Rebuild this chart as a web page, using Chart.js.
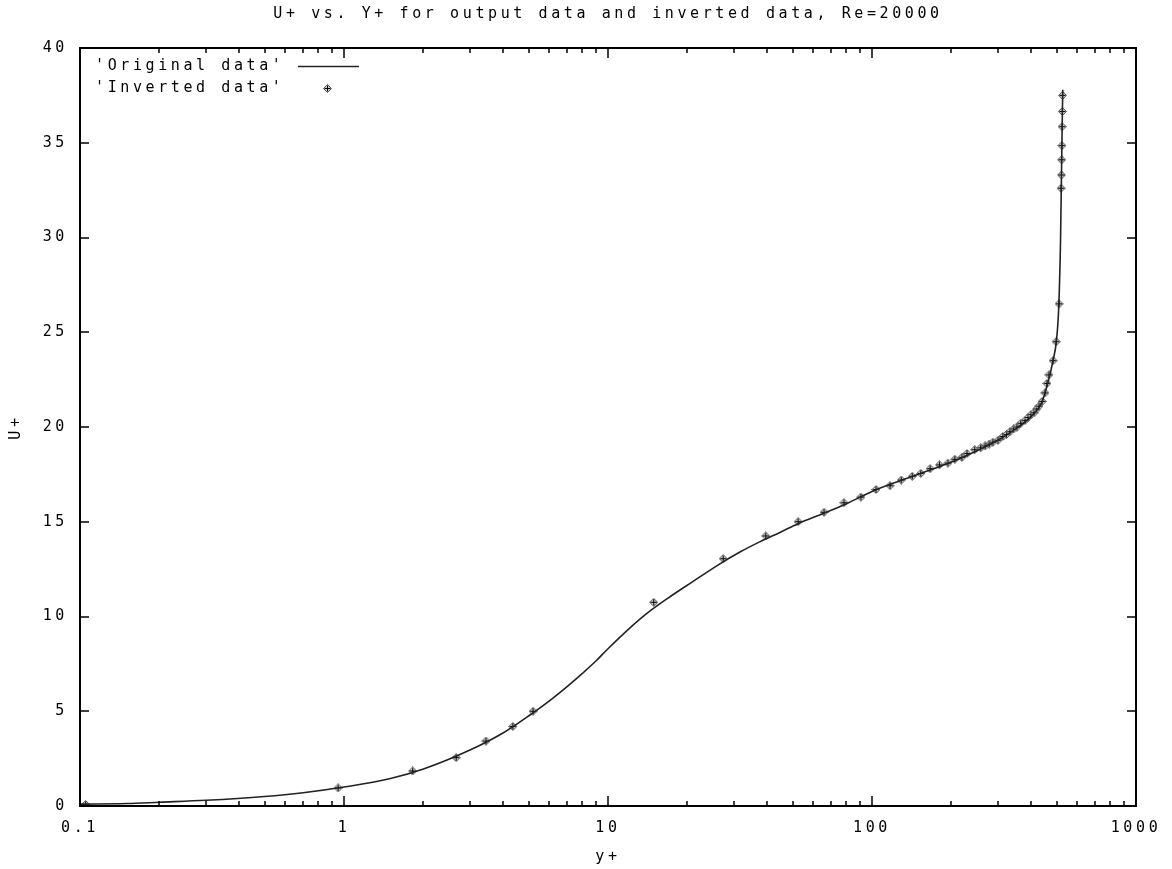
<!DOCTYPE html>
<html>
<head>
<meta charset="utf-8">
<script src="https://cdn.jsdelivr.net/npm/chart.js@4.4.1/dist/chart.umd.min.js"></script>
<style>
  html, body { margin: 0; padding: 0; background: #fff; }
  #wrap { width: 1172px; height: 869px; }
</style>
</head>
<body>
<div id="wrap"><canvas id="uplus"></canvas></div>
<script>
// continuous profile (y+, U+)
const lineYp = [0.1, 0.15, 0.2, 0.3, 0.5, 0.7, 1, 1.5, 2, 3, 4, 5, 6, 7, 8, 9, 10, 12, 14, 17, 21,
  26, 31.6, 37.7, 45, 52.5, 65.8, 80, 100, 130, 160, 200, 250, 300, 350, 400, 440, 465, 485, 500,
  510, 518, 522, 526, 528];
const lineUp = [0.1, 0.13, 0.2, 0.3, 0.5, 0.7, 1.0, 1.45, 1.95, 2.95, 3.85, 4.75, 5.55, 6.3, 7.0, 7.65, 8.3, 9.35, 10.15, 11.0, 11.85,
  12.7, 13.4, 13.95, 14.45, 14.9, 15.45, 15.95, 16.6, 17.2, 17.65, 18.15, 18.75, 19.3, 19.9, 20.55, 21.3, 22.4, 23.5, 24.6,
  26.4, 30, 33.3, 36.5, 37.8];

// inverted points (y+, U+)
const invYp = [0.105, 0.95, 1.82, 2.66, 3.45, 4.36, 5.2, 14.9, 27.3, 39.6, 52.5, 65.8, 78.3, 90.8, 103.5,
  117, 129, 142, 153, 166, 180, 194, 206, 219, 229, 245, 258, 268, 278, 287, 300, 313, 323, 333, 344,
  354, 366, 380, 390, 400, 411, 420, 429, 441, 452, 460, 468, 485, 498, 511, 520, 522, 523, 524, 525, 526, 527];
const invUp = [0.08, 0.95, 1.85, 2.55, 3.43, 4.2, 5.0, 10.75, 13.05, 14.25, 15.0, 15.5, 16.0, 16.3, 16.7,
  16.9, 17.2, 17.4, 17.55, 17.8, 18.0, 18.1, 18.3, 18.4, 18.6, 18.8, 18.9, 19.0, 19.1, 19.2, 19.3, 19.5, 19.6, 19.75, 19.9,
  20.0, 20.2, 20.35, 20.5, 20.65, 20.75, 20.95, 21.1, 21.35, 21.8, 22.3, 22.75, 23.5, 24.5, 26.5, 32.6, 33.3, 34.1, 34.85, 35.85, 36.65, 37.5];

const xTickVals = [0.1, 1, 10, 100, 1000];
const yTickVals = [0, 5, 10, 15, 20, 25, 30, 35, 40];

const FONT_FAMILY = '"DejaVu Sans Mono", monospace';
const FONT = '15px ' + FONT_FAMILY;
const SPACING = '3.6px';

// small diamond-with-cross marker
function makeMarker() {
  const c = document.createElement('canvas');
  c.width = 9; c.height = 9;
  const g = c.getContext('2d');
  g.fillStyle = '#ccc';
  g.strokeStyle = '#555';
  g.lineWidth = 1;
  g.beginPath();
  g.moveTo(4.5, 0.5); g.lineTo(8.5, 4.5); g.lineTo(4.5, 8.5); g.lineTo(0.5, 4.5); g.closePath();
  g.fill();
  g.stroke();
  g.strokeStyle = '#000';
  g.beginPath();
  g.moveTo(4.5, 1.5); g.lineTo(4.5, 7.5);
  g.moveTo(1.5, 4.5); g.lineTo(7.5, 4.5);
  g.stroke();
  return c;
}
const marker = makeMarker();

// frame, inward ticks, titles and key
const gnuFrame = {
  id: 'gnuFrame',
  beforeDraw(chart) {
    chart.ctx.letterSpacing = SPACING;
  },
  afterDraw(chart) {
    const ctx = chart.ctx;
    const a = chart.chartArea;
    const xs = chart.scales.x, ys = chart.scales.y;
    ctx.save();
    ctx.strokeStyle = '#000';
    ctx.lineWidth = 2;
    ctx.strokeRect(a.left, a.top, a.right - a.left, a.bottom - a.top);

    ctx.lineWidth = 1.5;
    ctx.beginPath();
    [0.1, 1, 10, 100].forEach(d => {
      for (let k = 1; k <= 9; k++) {
        const px = Math.round(xs.getPixelForValue(d * k));
        const len = k === 1 ? 10 : 5;
        ctx.moveTo(px, a.bottom); ctx.lineTo(px, a.bottom - len);
        ctx.moveTo(px, a.top); ctx.lineTo(px, a.top + len);
      }
    });
    yTickVals.forEach(v => {
      const py = Math.round(ys.getPixelForValue(v));
      ctx.moveTo(a.left, py); ctx.lineTo(a.left + 9, py);
      ctx.moveTo(a.right, py); ctx.lineTo(a.right - 9, py);
    });
    ctx.stroke();

    ctx.fillStyle = '#000';
    ctx.font = FONT;
    ctx.letterSpacing = SPACING;
    ctx.textBaseline = 'middle';
    ctx.textAlign = 'center';
    const cx = (a.left + a.right) / 2;
    ctx.fillText('U+ vs. Y+ for output data and inverted data, Re=20000', cx, 14);
    ctx.fillText('y+', cx, 857);
    ctx.save();
    ctx.translate(16, (a.top + a.bottom) / 2);
    ctx.rotate(-Math.PI / 2);
    ctx.fillText('U+', 0, 0);
    ctx.restore();

    // key
    ctx.textAlign = 'left';
    ctx.fillText("'Original data'", 95, 66);
    ctx.fillText("'Inverted data'", 95, 88);
    ctx.lineWidth = 1.5;
    ctx.strokeStyle = '#222';
    ctx.beginPath();
    ctx.moveTo(298, 66.5); ctx.lineTo(359, 66.5);
    ctx.stroke();
    ctx.drawImage(marker, 323, 84);
    ctx.restore();
  }
};

const config = {
  type: 'line',
  data: {
    datasets: [
      {
        label: "'Original data'",
        data: lineYp.map((x, i) => ({ x, y: lineUp[i] })),
        borderColor: '#222',
        borderWidth: 1.6,
        pointRadius: 0,
        cubicInterpolationMode: 'monotone',
        fill: false,
      },
      {
        label: "'Inverted data'",
        data: invYp.map((x, i) => ({ x, y: invUp[i] })),
        showLine: false,
        pointStyle: marker,
        pointRadius: 4,
      },
    ],
  },
  options: {
    responsive: true,
    maintainAspectRatio: false,
    animation: false,
    layout: { padding: { top: 48, right: 36, left: 0, bottom: 0 } },
    plugins: {
      legend: { display: false },
      title: { display: false },
      tooltip: { enabled: false },
    },
    scales: {
      x: {
        type: 'logarithmic',
        min: 0.1,
        max: 1000,
        grid: { display: false, drawTicks: false },
        border: { display: false },
        afterBuildTicks: s => { s.ticks = xTickVals.map(v => ({ value: v })); },
        afterFit: s => { s.height = 63; },
        ticks: {
          autoSkip: false,
          maxRotation: 0,
          padding: 13,
          color: '#000',
          font: { family: FONT_FAMILY, size: 15 },
          callback: v => String(v),
        },
      },
      y: {
        min: 0,
        max: 40,
        grid: { display: false, drawTicks: false },
        border: { display: false },
        afterBuildTicks: s => { s.ticks = yTickVals.map(v => ({ value: v })); },
        afterFit: s => { s.width = 80; },
        ticks: {
          padding: 12,
          color: '#000',
          font: { family: FONT_FAMILY, size: 15 },
        },
      },
    },
  },
  plugins: [gnuFrame],
};

const uplusChart = new Chart(document.getElementById('uplus'), config);
</script>
</body>
</html>
